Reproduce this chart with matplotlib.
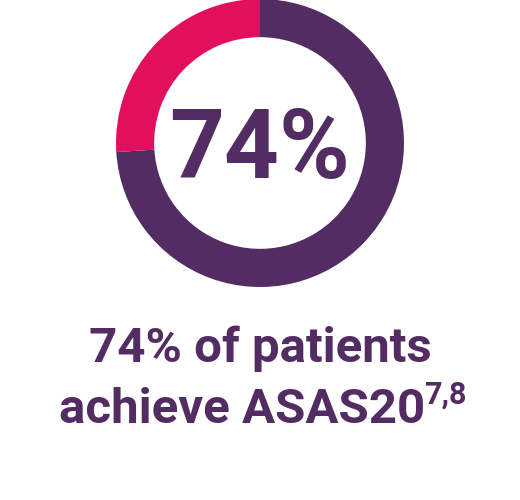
import matplotlib
matplotlib.use("Agg")
import matplotlib.pyplot as plt

values = [74, 26]
colors = ["#522c62", "#e20f5f"]
big_label = "74%"
line1 = "74% of patients"
line2 = "achieve ASAS20"
sup = "7,8"

W, H = 520, 500
fig = plt.figure(figsize=(5.2, 5.0), dpi=100)

# donut: centre (260, 143) px from top, outer radius 144 px
cx, cy, r = 260, 143, 144
ax = fig.add_axes([(cx - r) / W, (H - cy - r) / H, 2 * r / W, 2 * r / H])
ax.pie(values, colors=colors, startangle=90, counterclock=False,
       radius=1, wedgeprops=dict(width=0.265, linewidth=0))
ax.set_xlim(-1, 1)
ax.set_ylim(-1, 1)
ax.axis("off")

purple = colors[0]
fig.text(cx / W, (H - 178) / H, big_label, ha="center", va="baseline",
         fontsize=69, fontweight="bold", family="Roboto", color=purple)

fig.text(260 / W, (H - 362) / H, line1, ha="center", va="baseline",
         fontsize=35.5, fontweight="bold", family="Roboto", color=purple)

t2 = fig.text(0, (H - 423) / H, line2, ha="left", va="baseline",
              fontsize=35.5, fontweight="bold", family="Roboto", color=purple)
t3 = fig.text(0, (H - 404) / H, sup, ha="left", va="baseline",
              fontsize=22, fontweight="bold", family="Roboto", color=purple)

fig.canvas.draw()
r_ = fig.canvas.get_renderer()
w2 = t2.get_window_extent(r_).width
w3 = t3.get_window_extent(r_).width
gap = -1
total = w2 + gap + w3
x0 = 263 - total / 2
t2.set_x(x0 / W)
t3.set_x((x0 + w2 + gap) / W)

fig.savefig("out.png", dpi=100, facecolor="white")
